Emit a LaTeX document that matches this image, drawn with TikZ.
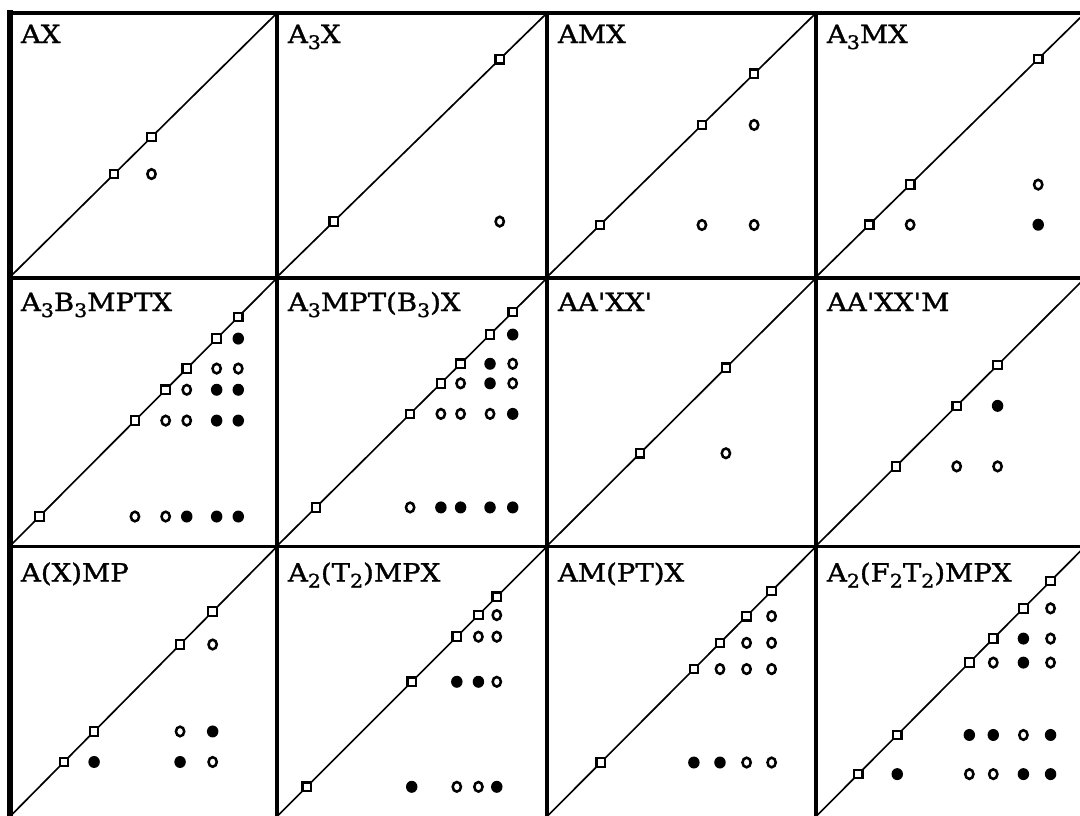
\documentclass[tikz,border=0pt]{standalone}
\usepackage{fontspec}
\newfontfamily\labfont[FakeStretch=1.1,FakeBold=1.3,Ligatures=TeXOff]{DejaVu Serif}
\newcommand\lsub[1]{\raisebox{-4.5pt}{\fontsize{14}{14}\selectfont #1}}
\tikzset{
  gridline/.style={line width=2.7pt, line cap=rect},
  outerline/.style={line width=3.8pt, line cap=rect},
  diagline/.style={line width=1.25pt},
  sqk/.style={draw, fill=white, line width=1.6pt},
  opk/.style={draw, fill=white, line width=1.9pt},
  flk/.style={fill=black},
  lab/.style={font=\labfont\fontsize{18.8}{20}\selectfont, inner sep=0pt, anchor=base west},
}
% #1 x0, #2 ytop, #3 W, #4 H, #5 name, #6 label, #7 diagonal list, #8 cross peaks i/j/filled, #9 label baseline offset
\newcommand\cellplot[9]{%
  \begin{scope}[shift={(#1,#2+#4)}]
    \def\dlist{#7}%
    \draw[diagline] (0,0) -- (#3,-#4);
    \node[lab] (#5) at (10.7,-#4+#9) {#6};
    \foreach \i/\j/\k in {#8} {
      \pgfmathsetmacro\ti{{\dlist}[\i-1]}
      \pgfmathsetmacro\tj{{\dlist}[\j-1]}
      \ifnum\k=1
        \fill[flk] (\tj*#3,-\ti*#4) ellipse [x radius=4.3pt, y radius=4.5pt];
      \else
        \draw[opk] (\tj*#3,-\ti*#4) ellipse [x radius=3.1pt, y radius=3.6pt];
      \fi
    }
    \foreach \t in \dlist {
      \draw[sqk] (\t*#3,-\t*#4) +(-3.2pt,-3.2pt) rectangle +(3.2pt,3.2pt);
    }
  \end{scope}}
\begin{document}
\begin{tikzpicture}[x=0.75pt,y=-0.75pt]
\useasboundingbox (0,0) rectangle (1080,815);
\fill[white] (0,0) rectangle (1080,815);
\clip (0,0) rectangle (1080,815);
% row 1
\cellplot{10}{13}{267}{264}{lab11}{AX}{0.39,0.53}{1/2/0}{30}
\cellplot{277}{13}{270}{264}{lab12}{A\lsub3X}{0.21,0.825}{1/2/0}{30}
\cellplot{547}{13}{269}{264}{lab13}{AMX}{0.197,0.576,0.77}{2/3/0,1/2/0,1/3/0}{30}
\cellplot{816}{13}{269}{264}{lab14}{A\lsub3MX}{0.198,0.35,0.826}{1/2/0,2/3/0,1/3/1}{30}
% row 2
\cellplot{10}{278}{267}{268}{lab21}{A\lsub3B\lsub3MPTX}{0.11,0.468,0.583,0.662,0.774,0.855}%
  {1/2/0,1/3/0,1/4/1,1/5/1,1/6/1,2/3/0,2/4/0,2/5/1,2/6/1,3/4/0,3/5/1,3/6/1,4/5/0,4/6/0,5/6/1}{33}
\cellplot{277}{278}{270}{268}{lab22}{A\lsub3MPT(B\lsub3)X}{0.144,0.493,0.607,0.68,0.789,0.873}%
  {1/2/0,1/3/1,1/4/1,1/5/1,1/6/1,2/3/0,2/4/0,2/5/0,2/6/1,3/4/0,3/5/1,3/6/0,4/5/1,4/6/0,5/6/1}{33}
\cellplot{547}{278}{269}{268}{lab23}{AA'XX'}{0.346,0.665}{1/2/0}{33}
\cellplot{816}{278}{269}{268}{lab24}{AA'XX'M}{0.297,0.523,0.675}{1/2/0,1/3/0,2/3/1}{33}
% row 3
\cellplot{10}{546.5}{267}{270}{lab31}{A(X)MP}{0.202,0.315,0.637,0.759}%
  {1/2/1,1/3/1,1/4/0,2/3/0,2/4/1,3/4/0}{35}
\cellplot{277}{546.5}{270}{270}{lab32}{A\lsub2(T\lsub2)MPX}{0.11,0.499,0.666,0.746,0.814}%
  {1/2/1,1/3/0,1/4/0,1/5/1,2/3/1,2/4/1,2/5/0,3/4/0,3/5/0,4/5/0}{35}
\cellplot{547}{546.5}{269}{270}{lab33}{AM(PT)X}{0.2,0.546,0.643,0.742,0.835}%
  {1/2/1,1/3/1,1/4/0,1/5/0,2/3/0,2/4/0,2/5/0,3/4/0,3/5/0,4/5/0}{35}
\cellplot{816}{546.5}{269}{270}{lab34}{A\lsub2(F\lsub2T\lsub2)MPX}{0.157,0.302,0.57,0.659,0.771,0.872}%
  {1/2/1,1/3/0,1/4/0,1/5/1,1/6/1,2/3/1,2/4/1,2/5/0,2/6/1,3/4/0,3/5/1,3/6/0,4/5/1,4/6/0,5/6/0}{35}
% grid
\draw[gridline] (10,13) -- (1090,13);
\draw[gridline] (10,278) -- (1090,278);
\draw[gridline] (10,546.5) -- (1090,546.5);
\draw[gridline] (277,13) -- (277,820);
\draw[gridline] (547,13) -- (547,820);
\draw[gridline] (816,13) -- (816,820);
\draw[outerline] (10,13) -- (10,820);
\end{tikzpicture}
\end{document}
